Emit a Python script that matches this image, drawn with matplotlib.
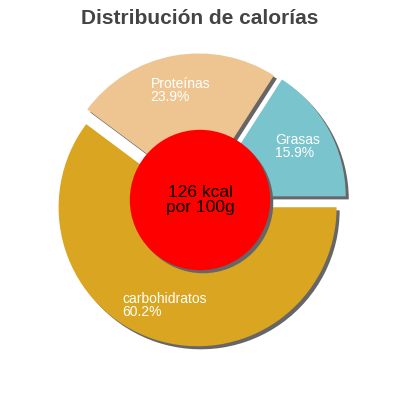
import numpy as np
import matplotlib.pyplot as plt

# Datos del grafico
nombres = ["carbohidratos", "Proteínas", "Grasas"]
porcentajes = [60.2, 23.9, 15.9]
colores = ["#DAA520", "#EEC591", "#7AC5CD"]
texto_centro = "126 kcal\npor 100g"
titulo = "Distribución de calorías"

plt.rcParams['font.family'] = ['Liberation Sans', 'DejaVu Sans']

fig = plt.figure(figsize=(4, 4), dpi=100)
ax = fig.add_axes([0, 0, 1, 1])

explode = [0.055] * len(porcentajes)
sombra = 0.022

# Sombras de las porciones
ax.pie(porcentajes, explode=explode, startangle=0, counterclock=False,
       colors=["#666666"] * len(porcentajes), center=(sombra, -sombra),
       wedgeprops=dict(linewidth=0))

# Porciones
etiquetas = [f"{n}\n{p}%" for n, p in zip(nombres, porcentajes)]
wedges, textos = ax.pie(porcentajes, explode=explode, startangle=0, counterclock=False,
                        colors=colores, labels=etiquetas, labeldistance=0.745,
                        wedgeprops=dict(linewidth=0),
                        textprops=dict(color="white", fontsize=10, linespacing=0.9))
for t in textos:
    t.set_horizontalalignment("center")
    t.set_verticalalignment("center")
    t.set_multialignment("left")

# Circulo central con sombra
ax.add_patch(plt.Circle((sombra, -sombra), 0.505, color="#666666", lw=0))
ax.add_patch(plt.Circle((0, 0), 0.505, color="#FF0000", lw=0))
ax.text(0, 0, texto_centro, ha="center", va="center", fontsize=12.5,
        color="black", linespacing=1.0)

lim = 200 / 139
ax.set_xlim(-lim, lim)
ax.set_ylim(-lim, lim)
ax.set_aspect("equal")
ax.axis("off")

fig.text(0.5, 0.953, titulo, ha="center", va="center", fontsize=15,
         fontweight="bold", color="#444444")

fig.savefig("out.png", dpi=100)
